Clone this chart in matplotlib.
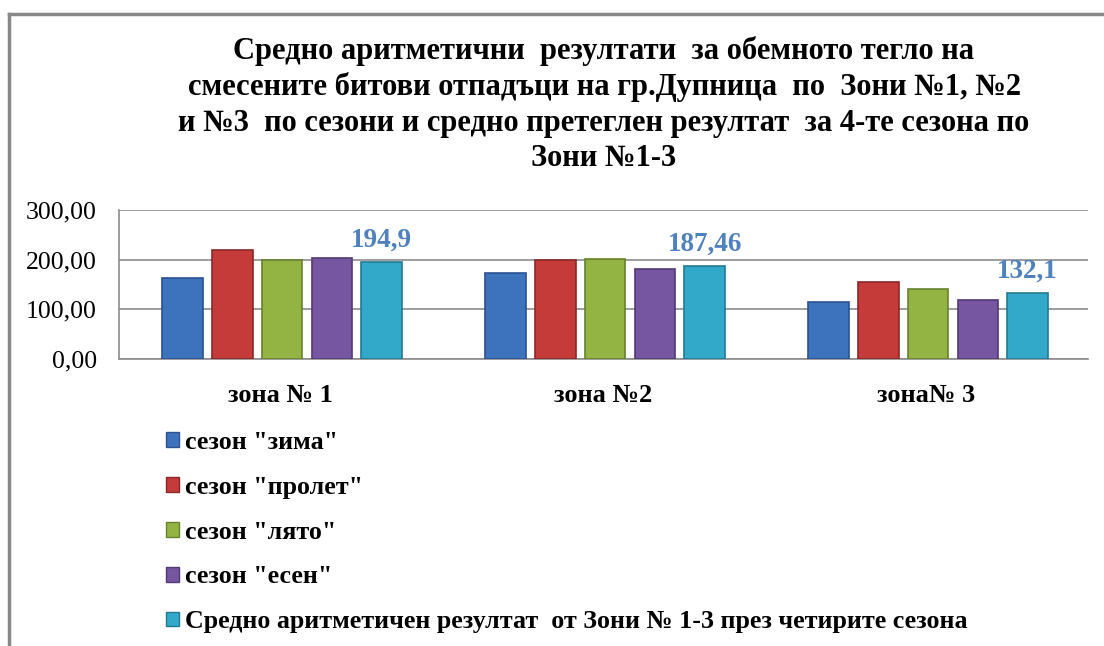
import matplotlib
matplotlib.use("Agg")
import matplotlib.pyplot as plt
from matplotlib.patches import Patch
from matplotlib.lines import Line2D
import numpy as np

plt.rcParams['font.family'] = ['Liberation Serif', 'DejaVu Serif']

# data
zones = ["зона № 1", "зона №2", "зона№ 3"]
series_names = ['сезон "зима"', 'сезон "пролет"', 'сезон "лято"', 'сезон "есен"',
                'Средно аритметичен резултат  от Зони № 1-3 през четирите сезона']
winter = [164.0, 174.0, 115.0]
spring = [219.0, 199.0, 156.0]
summer = [199.0, 201.0, 141.0]
autumn = [204.0, 181.0, 119.0]
average = [194.9, 187.46, 132.1]
avg_labels = ["194,9", "187,46", "132,1"]
yticks = [0, 100, 200, 300]
ytick_labels = ["0,00", "100,00", "200,00", "300,00"]

colors = ["#3d72bd", "#c43b3a", "#93b443", "#7655a1", "#33a9c9"]
edges = ["#2a5290", "#8a2827", "#67822c", "#523a73", "#227a93"]

fig = plt.figure(figsize=(11.04, 6.46), dpi=100)
ax = fig.add_axes([119/1104, 1-359/646, 969/1104, 149/646])

x = np.arange(len(zones))
step = 0.154
w = 0.125
all_series = [winter, spring, summer, autumn, average]
for i, vals in enumerate(all_series):
    ax.bar(x + (i-2)*step + 0.005, vals, w, color=colors[i], edgecolor=edges[i],
           linewidth=1.2, zorder=3)

for xi, v, lab in zip(x, average, avg_labels):
    ax.annotate(lab, (xi + 2*step + 0.005, v), xytext=(0, 11), textcoords="offset points",
                ha="center", va="baseline", fontsize=19.5, fontweight="bold", color="#4f81bd")

ax.set_xlim(-0.5, 2.5)
ax.set_ylim(0, 300)
ax.set_yticks(yticks)
ax.set_yticklabels(ytick_labels, fontsize=18.5)
ax.set_xticks(x)
ax.set_xticklabels(zones, fontsize=19, fontweight="bold")
ax.tick_params(axis="y", length=0, pad=16)
ax.tick_params(axis="x", length=0, pad=18)
ax.yaxis.grid(True, color="#8c8c8c", linewidth=1.2, zorder=0)
ax.set_axisbelow(True)
for s in ["top", "right"]:
    ax.spines[s].set_visible(False)
for s in ["left", "bottom"]:
    ax.spines[s].set_color("#8c8c8c")
    ax.spines[s].set_linewidth(1.2)

title = ("Средно аритметични  резултати  за обемното тегло на\n"
         "смесените битови отпадъци на гр.Дупница  по  Зони №1, №2\n"
         "и №3  по сезони и средно претеглен резултат  за 4-те сезона по\n"
         "Зони №1-3")
fig.text(604/1104, 1-36/646, title, ha="center", va="top", fontsize=22,
         fontweight="bold", linespacing=1.28)

handles = [Patch(facecolor=colors[i], edgecolor=edges[i]) for i in range(5)]
leg = fig.legend(handles, series_names, loc="upper left",
                 bbox_to_anchor=(166/1104, 1-431/646), frameon=False,
                 prop={"size": 18.7, "weight": "bold"}, labelspacing=0.84,
                 handlelength=0.5, handleheight=0.5, handletextpad=0.25,
                 borderpad=0, borderaxespad=0)

# outer frame
fig.add_artist(Line2D([9/1104, 9/1104], [0, 1-14/646], color="#888888", lw=2.5))
fig.add_artist(Line2D([9/1104, 1], [1-14/646, 1-14/646], color="#888888", lw=2.5))

fig.savefig("out.png", dpi=100)
